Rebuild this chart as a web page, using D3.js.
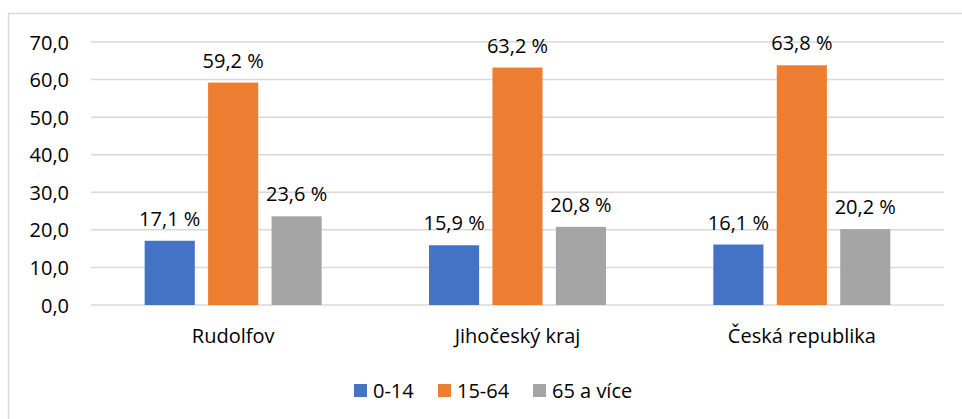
<!DOCTYPE html>
<html>
<head>
<meta charset="utf-8">
<script src="https://cdn.jsdelivr.net/npm/d3@7"></script>
<style>
body { margin: 0; background: #fff; }
text { font-family: "Open Sans", "Noto Sans", sans-serif; fill: #000; }
</style>
</head>
<body>
<div id="graf"></div>
<script>
var kategorie = ["Rudolfov", "Jihočeský kraj", "Česká republika"];
var serie = ["0-14", "15-64", "65 a více"];
var hodnoty014 = [17.1, 15.9, 16.1];
var hodnoty1564 = [59.2, 63.2, 63.8];
var hodnoty65 = [23.6, 20.8, 20.2];
var ticky = [0, 10, 20, 30, 40, 50, 60, 70];
var barvy = ["#4472C4", "#ED7D31", "#A5A5A5"];

var width = 962, height = 419;
var vsechny = [hodnoty014, hodnoty1564, hodnoty65];
var pismo = "20px";

var svg = d3.select("#graf").append("svg")
	.attr("width", width)
	.attr("height", height);

// ramecek grafu (presahuje obrazek vpravo a dole)
svg.append("rect")
	.attr("x", 8.5).attr("y", 13.5)
	.attr("width", 980).attr("height", 440)
	.attr("fill", "none")
	.attr("stroke", "#D9D9D9")
	.attr("stroke-width", 1.5);

var x = d3.scaleBand().domain(kategorie).range([91, 944]).paddingInner(0).paddingOuter(0);
var xs = d3.scaleBand().domain(serie).range([0, 177]).paddingInner(0.21);
var y = d3.scaleLinear().domain([0, 70]).range([305, 42]);

// mrizka
svg.selectAll("line.mriz")
	.data(ticky)
	.enter()
	.append("line")
	.attr("class", "mriz")
	.attr("x1", 91).attr("x2", 944)
	.attr("y1", function(d) { return y(d); })
	.attr("y2", function(d) { return y(d); })
	.attr("stroke", "#D9D9D9")
	.attr("stroke-width", 1.5);

// osa y
var osaY = svg.append("g")
	.attr("transform", "translate(69,0)")
	.call(d3.axisLeft(y).tickValues(ticky).tickSize(0).tickPadding(0)
		.tickFormat(function(d) { return d3.format(".1f")(d).replace(".", ","); }));
osaY.select(".domain").remove();
osaY.selectAll("text").style("font-size", pismo).attr("dy", "0.35em");
osaY.attr("font-family", null);

// osa x
var osaX = svg.append("g")
	.attr("transform", "translate(0,305)")
	.call(d3.axisBottom(x).tickSize(0).tickPadding(24));
osaX.select(".domain").remove();
osaX.selectAll("text").style("font-size", pismo);
osaX.attr("font-family", null);

// sloupce
var skupiny = svg.selectAll("g.skup")
	.data(kategorie)
	.enter()
	.append("g")
	.attr("class", "skup")
	.attr("transform", function(d) { return "translate(" + (x(d) + (x.bandwidth() - 177) / 2) + ",0)"; });

skupiny.selectAll("rect")
	.data(function(d, i) { return serie.map(function(s, j) { return {s: s, j: j, v: vsechny[j][i]}; }); })
	.enter()
	.append("rect")
	.attr("x", function(d) { return xs(d.s); })
	.attr("width", xs.bandwidth())
	.attr("y", function(d) { return y(d.v); })
	.attr("height", function(d) { return y(0) - y(d.v); })
	.attr("fill", function(d) { return barvy[d.j]; });

skupiny.selectAll("text")
	.data(function(d, i) { return serie.map(function(s, j) { return {s: s, j: j, v: vsechny[j][i]}; }); })
	.enter()
	.append("text")
	.attr("x", function(d) { return xs(d.s) + xs.bandwidth() / 2; })
	.attr("y", function(d) { return y(d.v) - 15; })
	.attr("text-anchor", "middle")
	.style("font-size", pismo)
	.text(function(d) { return d3.format(".1f")(d.v).replace(".", ",") + " %"; });

// legenda
var legX = [354, 438, 533];
var leg = svg.selectAll("g.leg")
	.data(serie)
	.enter()
	.append("g")
	.attr("class", "leg")
	.attr("transform", function(d, i) { return "translate(" + legX[i] + ",384)"; });
leg.append("rect")
	.attr("width", 13).attr("height", 13)
	.attr("fill", function(d, i) { return barvy[i]; });
leg.append("text")
	.attr("x", 19).attr("y", 6.5).attr("dy", "0.35em")
	.style("font-size", pismo)
	.text(function(d) { return d; });
</script>
</body>
</html>
